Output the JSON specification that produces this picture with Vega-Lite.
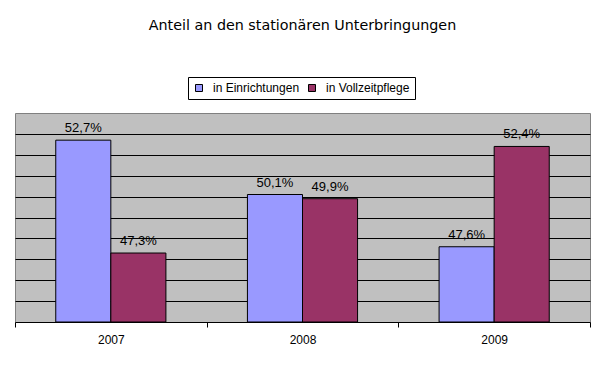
{
  "$schema": "https://vega.github.io/schema/vega-lite/v6.json",
  "width": 575,
  "height": 209,
  "autosize": {"type": "none"},
  "padding": {"left": 15, "top": 113, "right": 14, "bottom": 46},
  "background": "white",
  "title": {
    "text": "Anteil an den stationären Unterbringungen",
    "font": "DejaVu Sans",
    "fontSize": 14.3,
    "fontWeight": "normal",
    "color": "black",
    "offset": 43
  },
  "config": {
    "locale": {"number": {"decimal": ",", "thousands": ".", "grouping": [3], "currency": ["", " €"]}},
    "view": {"fill": "#C0C0C0", "stroke": "#808080", "strokeWidth": 1},
    "font": "Liberation Sans"
  },
  "data": {
    "values": [
      {"jahr": "2007", "art": "in Einrichtungen", "anteil": 0.527},
      {"jahr": "2007", "art": "in Vollzeitpflege", "anteil": 0.473},
      {"jahr": "2008", "art": "in Einrichtungen", "anteil": 0.501},
      {"jahr": "2008", "art": "in Vollzeitpflege", "anteil": 0.499},
      {"jahr": "2009", "art": "in Einrichtungen", "anteil": 0.476},
      {"jahr": "2009", "art": "in Vollzeitpflege", "anteil": 0.524}
    ]
  },
  "encoding": {
    "x": {
      "field": "jahr",
      "type": "nominal",
      "scale": {"paddingInner": 0, "paddingOuter": 0},
      "axis": {
        "title": null,
        "labelAngle": 0,
        "labelFont": "Liberation Sans",
        "labelFontSize": 12,
        "labelColor": "black",
        "labelPadding": 7,
        "tickBand": "extent",
        "tickSize": 5,
        "tickColor": "black",
        "domainColor": "black",
        "grid": false
      }
    },
    "xOffset": {
      "field": "art",
      "type": "nominal",
      "scale": {"paddingOuter": 0.74, "paddingInner": 0}
    },
    "y": {
      "field": "anteil",
      "type": "quantitative",
      "scale": {"domain": [0.44, 0.54], "clamp": true, "nice": false, "zero": false},
      "axis": {
        "title": null,
        "labels": false,
        "ticks": false,
        "domain": false,
        "grid": true,
        "gridColor": "black",
        "gridOpacity": 1,
        "values": [0.45, 0.46, 0.47, 0.48, 0.49, 0.50, 0.51, 0.52, 0.53]
      }
    }
  },
  "layer": [
    {
      "mark": {"type": "bar", "stroke": "black", "strokeWidth": 1},
      "encoding": {
        "color": {
          "field": "art",
          "type": "nominal",
          "scale": {"domain": ["in Einrichtungen", "in Vollzeitpflege"], "range": ["#9999FF", "#993366"]},
          "legend": {
            "title": null,
            "orient": "none",
            "direction": "horizontal",
            "legendX": 173,
            "legendY": -36,
            "fillColor": "white",
            "strokeColor": "black",
            "padding": 5,
            "symbolType": "square",
            "symbolSize": 49,
            "symbolStrokeColor": "black",
            "symbolStrokeWidth": 1,
            "labelFont": "Liberation Sans",
            "labelFontSize": 12,
            "labelColor": "black",
            "labelOffset": 8,
            "columnPadding": 6
          }
        }
      }
    },
    {
      "mark": {"type": "text", "baseline": "bottom", "dy": -5, "font": "Liberation Sans", "fontSize": 13, "color": "black"},
      "encoding": {
        "text": {"field": "anteil", "type": "quantitative", "format": ".1%"}
      }
    }
  ]
}
